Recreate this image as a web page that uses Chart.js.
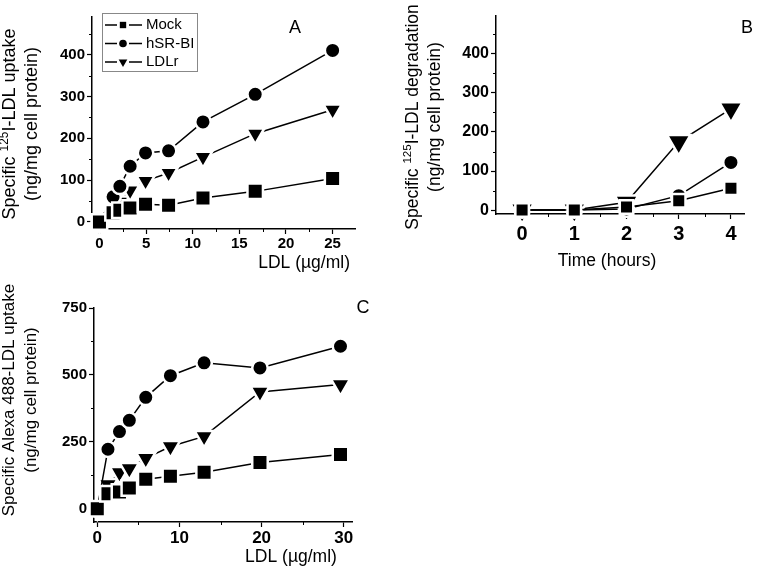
<!DOCTYPE html>
<html>
<head>
<meta charset="utf-8">
<script src="https://cdn.jsdelivr.net/npm/chart.js@4.4.0/dist/chart.umd.min.js"></script>
<style>
  body { margin: 0; background: #fff; }
  #wrap { position: relative; width: 760px; height: 568px; }
  canvas { position: absolute; }
</style>
</head>
<body>
<div id="wrap">
  <canvas id="chartA" width="380" height="280" style="left:0;top:0"></canvas>
  <canvas id="chartB" width="380" height="280" style="left:380px;top:0"></canvas>
  <canvas id="chartC" width="400" height="288" style="left:0;top:280px"></canvas>
</div>
<script>
var FONT = '"Liberation Sans", Arial, Helvetica, sans-serif';

// A: 125I-LDL uptake against LDL concentration
var doseA = [0, 1.46, 2.19, 3.29, 4.94, 7.41, 11.1, 16.7, 25];
var mockA = [0, 22, 28, 33, 42, 40, 57, 73, 104];
var srbiA = [0, 60, 85, 133, 165, 170, 239, 305, 410];
var ldlrA = [0, 33, 48, 75, 98, 117, 155, 211, 268];
var xTicksA = [0, 5, 10, 15, 20, 25];
var yTicksA = [0, 100, 200, 300, 400];

// B: degradation against time
var hoursB = [0, 1, 2, 3, 4];
var mockB = [0, 0, 8, 24, 56];
var srbiB = [0, 0, 3, 37, 122];
var ldlrB = [0, 0, 20, 175, 259];
var xTicksB = [0, 1, 2, 3, 4];
var yTicksB = [0, 100, 200, 300, 400];

// C: Alexa 488-LDL uptake
var doseC = [0, 1.3, 2.7, 3.9, 5.9, 8.9, 13, 19.8, 29.6];
var mockC = [0, 56, 62, 77, 110, 121, 136, 172, 202];
var srbiC = [0, 222, 288, 330, 416, 497, 545, 526, 607];
var ldlrC = [0, 90, 135, 150, 188, 232, 270, 436, 464];
var xTicksC = [0, 10, 20, 30];
var yTicksC = [0, 250, 500, 750];

var names = ['Mock', 'hSR-BI', 'LDLr'];

// text drawn straight on the canvas, '^' toggles superscript
var textPlugin = {
  id: 'panelText',
  afterDraw: function (chart, args, opts) {
    var ctx = chart.ctx;
    (opts.items || []).forEach(function (it) {
      var size = it.size || 17, lh = it.lh || 22, sr = it.sup || 0.62;
      ctx.save();
      ctx.translate(it.x, it.y);
      if (it.rot) ctx.rotate(it.rot * Math.PI / 180);
      ctx.fillStyle = '#000';
      ctx.textBaseline = 'middle';
      ctx.textAlign = 'left';
      it.lines.forEach(function (line, li) {
        var parts = line.split('^');
        var w = 0;
        parts.forEach(function (p, k) {
          ctx.font = (k % 2 ? size * sr : size) + 'px ' + FONT;
          w += ctx.measureText(p).width;
        });
        var cx = it.align === 'right' ? -w : (it.align === 'left' ? 0 : -w / 2);
        var cy = li * lh - (it.lines.length - 1) * lh / 2;
        parts.forEach(function (p, k) {
          var sup = k % 2 === 1;
          ctx.font = (sup ? size * sr : size) + 'px ' + FONT;
          ctx.fillText(p, cx, cy - (sup ? size * 0.3 : 0));
          cx += ctx.measureText(p).width;
        });
      });
      ctx.restore();
    });
  }
};

// short unlabelled ticks between the major ones
var minorPlugin = {
  id: 'minorTicks',
  afterDraw: function (chart, args, opts) {
    var ctx = chart.ctx;
    ctx.save();
    ctx.strokeStyle = '#000';
    ctx.lineWidth = 1;
    ['x', 'y'].forEach(function (id) {
      var s = chart.scales[id];
      (opts[id] || []).forEach(function (v) {
        var p = Math.round(s.getPixelForValue(v)) + 0.5;
        ctx.beginPath();
        if (id === 'x') { ctx.moveTo(p, s.top); ctx.lineTo(p, s.top + 3); }
        else { ctx.moveTo(s.right, p); ctx.lineTo(s.right - 3, p); }
        ctx.stroke();
      });
    });
    ctx.restore();
  }
};

// boxed legend with line-marker-line samples
var legendPlugin = {
  id: 'boxLegend',
  afterDraw: function (chart, args, opts) {
    if (!opts.box) return;
    var ctx = chart.ctx, b = opts.box;
    ctx.save();
    ctx.strokeStyle = '#888';
    ctx.lineWidth = 1;
    ctx.strokeRect(b.x + 0.5, b.y + 0.5, b.w, b.h);
    chart.data.datasets.forEach(function (d, i) {
      var y = b.y + opts.first + i * opts.step;
      var x0 = b.x + 3, xm = x0 + 18, x1 = x0 + 37;
      ctx.strokeStyle = '#000';
      ctx.lineWidth = 1.5;
      ctx.beginPath();
      ctx.moveTo(x0, y); ctx.lineTo(xm - 6, y);
      ctx.moveTo(xm + 6, y); ctx.lineTo(x1, y);
      ctx.stroke();
      ctx.fillStyle = '#000';
      Chart.helpers.drawPoint(ctx, {
        pointStyle: d.pointStyle, radius: opts.marks[i],
        rotation: d.pointRotation || 0, borderWidth: 0
      }, xm, y);
      ctx.font = '15px ' + FONT;
      ctx.textBaseline = 'middle';
      ctx.textAlign = 'left';
      ctx.fillText(d.label, x1 + 4, y);
    });
    ctx.restore();
  }
};

Chart.register(textPlugin, minorPlugin, legendPlugin);

var GAP = 2.5;
function series(label, xs, ys, shape, h) {
  var r;
  if (shape === 'rect') r = (h + GAP / 2) / Math.SQRT1_2;
  else if (shape === 'triangle') r = h + GAP;
  else r = h + GAP / 2;
  return {
    label: label,
    data: xs.map(function (x, i) { return { x: x, y: ys[i] }; }),
    borderColor: '#000',
    borderWidth: 1.5,
    pointStyle: shape,
    pointRotation: shape === 'triangle' ? 180 : 0,
    pointRadius: r,
    pointBackgroundColor: '#000',
    pointBorderColor: '#fff',
    pointBorderWidth: GAP,
    tension: 0,
    clip: false
  };
}

function axis(min, max, ticks, fontSize, fit, horizontal, pad) {
  return {
    type: 'linear',
    min: min,
    max: max,
    afterBuildTicks: function (s) { s.ticks = ticks.map(function (v) { return { value: v }; }); },
    afterFit: function (s) {
      if (horizontal) { s.height = fit; s.paddingLeft = 0; s.paddingRight = 0; }
      else { s.width = fit; s.paddingTop = 0; s.paddingBottom = 0; }
    },
    grid: { drawOnChartArea: false, color: '#000', tickColor: '#000', tickLength: 5, tickWidth: 1.2 },
    border: { color: '#000', width: 1.5 },
    ticks: {
      color: '#000', padding: pad, autoSkip: false, maxRotation: 0,
      font: { family: FONT, size: fontSize, weight: 'bold' }
    }
  };
}

function makeChart(id, p) {
  return new Chart(document.getElementById(id), {
    type: 'scatter',
    data: { datasets: p.datasets },
    options: {
      responsive: false,
      animation: false,
      devicePixelRatio: 1,
      showLine: true,
      layout: { padding: p.pad },
      scales: {
        x: axis(p.xMin, p.xMax, p.xTicks, p.xFont, p.xHeight, true, p.xPad),
        y: axis(p.yMin, p.yMax, p.yTicks, p.yFont, p.yWidth, false, 2)
      },
      plugins: {
        legend: { display: false },
        tooltip: { enabled: false },
        panelText: { items: p.texts },
        minorTicks: { x: p.xMinor, y: p.yMinor },
        boxLegend: p.legend || {}
      }
    }
  });
}

makeChart('chartA', {
  datasets: [
    series(names[0], doseA, mockA, 'rect', 6.5),
    series(names[1], doseA, srbiA, 'circle', 6.5),
    series(names[2], doseA, ldlrA, 'triangle', 8)
  ],
  xMin: -0.8, xMax: 27.4, xTicks: xTicksA, xMinor: [2.5, 7.5, 12.5, 17.5, 22.5], xFont: 15, xHeight: 51, xPad: 1,
  yMin: -17, yMax: 490, yTicks: yTicksA, yMinor: [50, 150, 250, 350, 450], yFont: 15, yWidth: 92,
  pad: { left: 0, top: 17, right: 25, bottom: 0 },
  legend: { box: { x: 102, y: 13, w: 95, h: 58 }, first: 12, step: 18.5, marks: [4.5, 3.8, 5] },
  texts: [
    { lines: ['Specific ^125^I-LDL uptake', '(ng/mg cell protein)'], x: 21, y: 124, rot: -90, size: 18, sup: 0.66 },
    { lines: ['LDL (\u00b5g/ml)'], x: 350, y: 263, align: 'right', size: 17.5 },
    { lines: ['A'], x: 295, y: 28, size: 18 }
  ]
});

makeChart('chartB', {
  datasets: [
    series(names[0], hoursB, mockB, 'rect', 5.5),
    series(names[1], hoursB, srbiB, 'circle', 6.5),
    series(names[2], hoursB, ldlrB, 'triangle', 11)
  ],
  xMin: -0.5, xMax: 4.25, xTicks: xTicksB, xMinor: [0.5, 1.5, 2.5, 3.5], xFont: 20, xHeight: 66, xPad: 3,
  yMin: -10, yMax: 497, yTicks: yTicksB, yMinor: [50, 150, 250, 350, 450], yFont: 16, yWidth: 116,
  pad: { left: 0, top: 2, right: 15, bottom: 0 },
  texts: [
    { lines: ['Specific ^125^I-LDL degradation', '(ng/mg cell protein)'], x: 44, y: 117, rot: -90, size: 17.5, sup: 0.66 },
    { lines: ['Time (hours)'], x: 227, y: 261, size: 17.5 },
    { lines: ['B'], x: 367, y: 28, size: 18 }
  ]
});

makeChart('chartC', {
  datasets: [
    series(names[0], doseC, mockC, 'rect', 6.5),
    series(names[1], doseC, srbiC, 'circle', 6.5),
    series(names[2], doseC, ldlrC, 'triangle', 8.5)
  ],
  xMin: -0.4, xMax: 31, xTicks: xTicksC, xMinor: [5, 15, 25], xFont: 17, xHeight: 46, xPad: 1,
  yMin: -50, yMax: 750, yTicks: yTicksC, yMinor: [125, 375, 625], yFont: 15, yWidth: 94,
  pad: { left: 0, top: 28, right: 48, bottom: 0 },
  texts: [
    { lines: ['Specific Alexa 488-LDL uptake', '(ng/mg cell protein)'], x: 20, y: 120, rot: -90, size: 17 },
    { lines: ['LDL (\u00b5g/ml)'], x: 291, y: 277, size: 17.5 },
    { lines: ['C'], x: 363, y: 28, size: 18 }
  ]
});
</script>
</body>
</html>
